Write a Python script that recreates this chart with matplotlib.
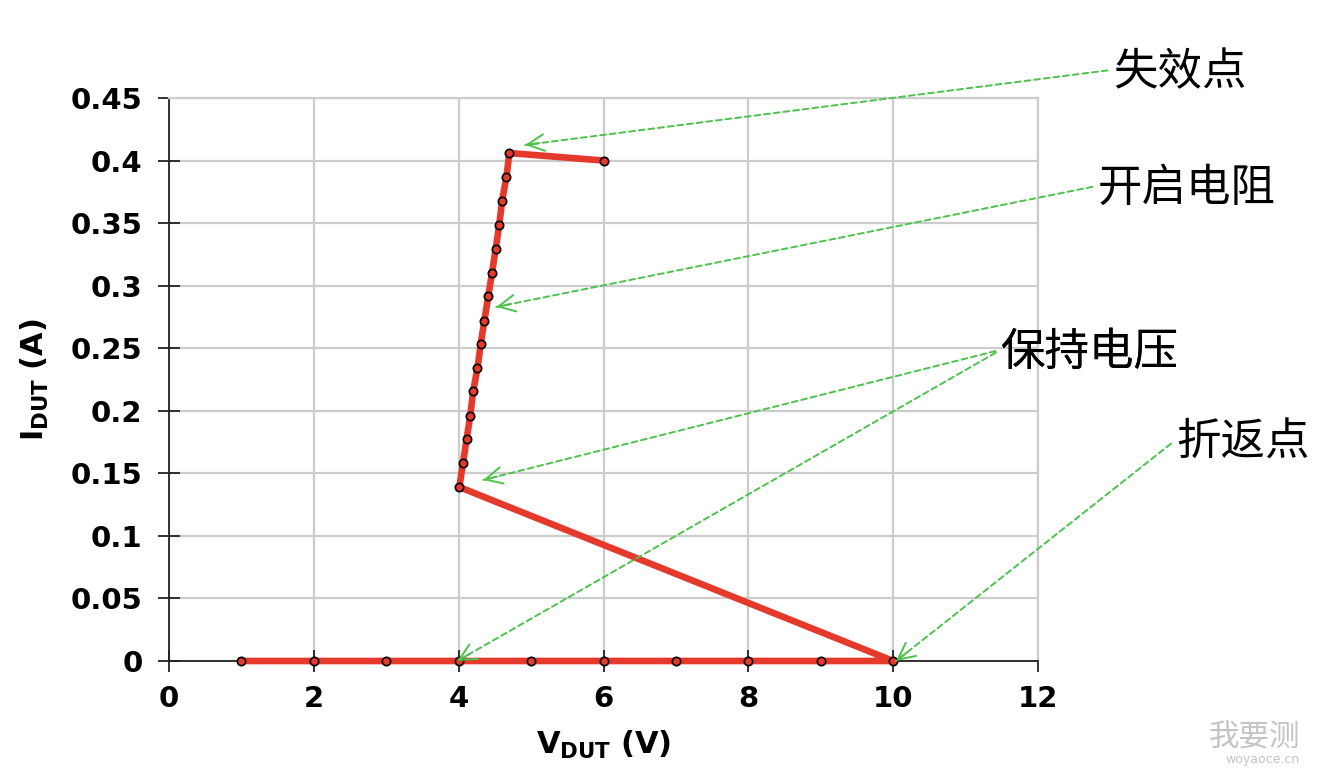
import numpy as np
import matplotlib.pyplot as plt
from matplotlib.ticker import FuncFormatter

# I-V curve of the device (snapback)
v_dut = [1, 2, 3, 4, 5, 6, 7, 8, 9, 10,
         4.01, 4.06, 4.11, 4.16, 4.20, 4.26, 4.305, 4.355, 4.41, 4.46,
         4.51, 4.56, 4.60, 4.66, 4.70, 6.0]
i_dut = [0, 0, 0, 0, 0, 0, 0, 0, 0, 0,
         0.139, 0.1585, 0.1775, 0.196, 0.2155, 0.234, 0.2535, 0.272, 0.292, 0.310,
         0.329, 0.3485, 0.368, 0.387, 0.406, 0.400]

# annotation labels, where their arrows point (data) and where the text sits (figure px)
labels = ["失效点", "开启电阻", "保持电压", "保持电压", "折返点"]
targets = [(4.92, 0.4125), (4.52, 0.283), (4.34, 0.1447), (3.98, 0.0), (10.04, 0.0)]
text_pos = [(1113, 72), (1098, 188), (1001, 352), (1001, 352), (1176, 442)]

x_ticks = [0, 2, 4, 6, 8, 10, 12]
y_ticks = [0, 0.05, 0.1, 0.15, 0.2, 0.25, 0.3, 0.35, 0.4, 0.45]

W, H = 1336, 776
fig = plt.figure(figsize=(W / 100, H / 100), dpi=100)
ax = fig.add_axes([169 / W, 1 - 661 / H, (1038 - 169) / W, (661 - 98) / H])

ax.plot(v_dut, i_dut, color='#E53A2B', lw=4.8, marker='o', ms=6,
        mfc='#E53A2B', mec='black', mew=1.2, zorder=3, clip_on=False)

ax.set_xlim(0, 12)
ax.set_ylim(0, 0.45)
ax.set_xticks(x_ticks)
ax.set_yticks(y_ticks)
ax.yaxis.set_major_formatter(FuncFormatter(lambda v, p: '%g' % v))
ax.grid(True, color='#cccccc', lw=1.6)
ax.set_axisbelow(True)

for s in ['top', 'right']:
    ax.spines[s].set_color('#cccccc')
    ax.spines[s].set_linewidth(1.6)
for s in ['left', 'bottom']:
    ax.spines[s].set_color('#222222')
    ax.spines[s].set_linewidth(1.3)

ax.tick_params(axis='both', direction='inout', length=16, width=1.3, color='#222222',
               labelsize=21)
ax.tick_params(axis='y', pad=11)
ax.tick_params(axis='x', pad=9)
for lab in ax.get_xticklabels() + ax.get_yticklabels():
    lab.set_fontweight('bold')

ax.set_xlabel(r'$\mathbf{V_{DUT}}$ $\mathbf{(V)}$', fontsize=22, labelpad=12)
ax.set_ylabel(r'$\mathbf{I_{DUT}}$ $\mathbf{(A)}$', fontsize=22, labelpad=14)

green = '#4CC24C'
for lab, (tx, ty), (px, py) in zip(labels, targets, text_pos):
    # dashed shaft from the text to the target
    ax.annotate(lab, xy=(tx, ty), xycoords='data',
                xytext=(px, H - py), textcoords='figure pixels',
                ha='left', va='center', fontsize=32,
                family=['Noto Sans CJK SC', 'DejaVu Sans'],
                arrowprops=dict(arrowstyle='-', color=green, lw=1.4,
                                linestyle=(0, (3, 2)),
                                relpos=(0, 0.55), shrinkA=2, shrinkB=0),
                annotation_clip=False, zorder=5)
    # solid open head at the target
    tp = ax.transData.transform((tx, ty))
    d = np.array([px, H - py]) - tp
    d = d / np.hypot(*d) * 14  # pixels back along the shaft
    ax.annotate('', xy=(tx, ty), xycoords='data',
                xytext=(d[0] * 0.72, d[1] * 0.72), textcoords='offset points',
                arrowprops=dict(arrowstyle='->', color=green, lw=1.4,
                                mutation_scale=30, shrinkA=0, shrinkB=0),
                annotation_clip=False, zorder=5)

# watermark
fig.text(1300 / W, 1 - 738 / H, "我要测", color='#c4c4c4', fontsize=22, ha='right', va='center',
         family=['Noto Sans CJK SC', 'DejaVu Sans'])
fig.text(1300 / W, 1 - 760 / H, "woyaoce.cn", color='#c4c4c4', fontsize=9, ha='right', va='center')

fig.savefig('out.png', dpi=100)
